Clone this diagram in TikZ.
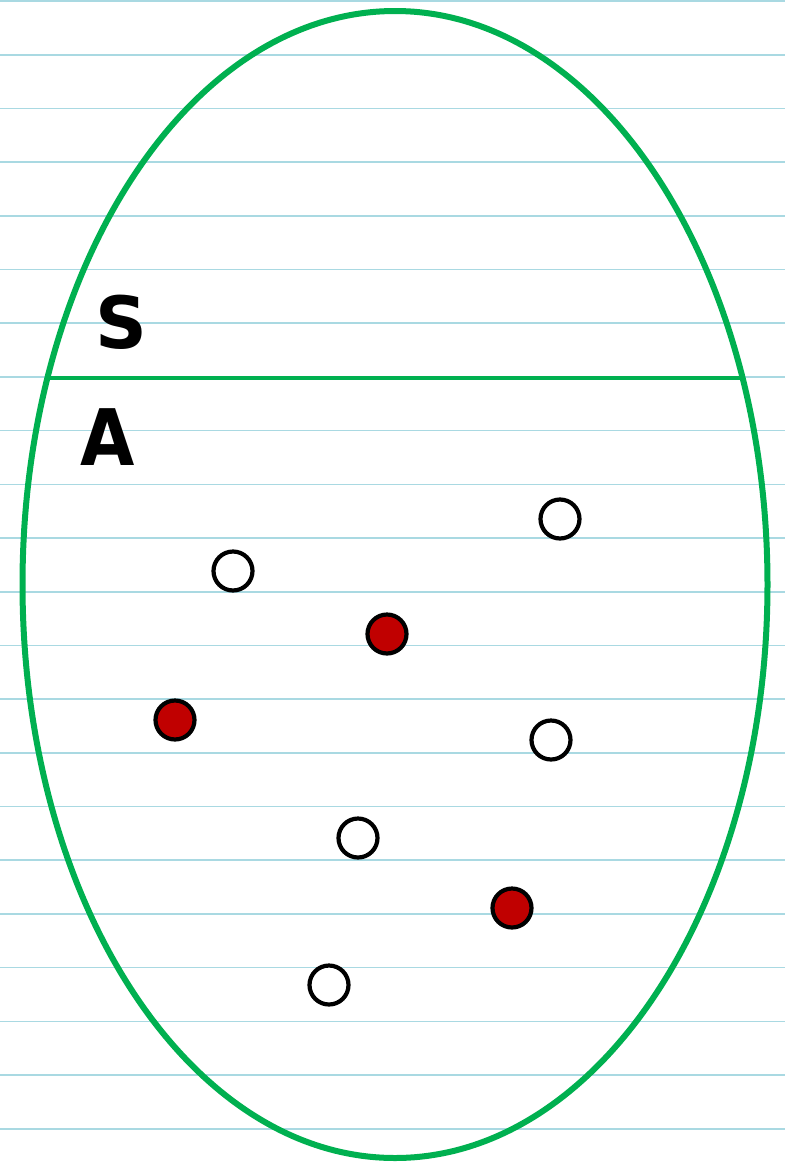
\documentclass[tikz,border=0pt]{standalone}
\usepackage{fontspec}
\usetikzlibrary{shapes.geometric}
\newfontfamily\handfont{DejaVu Sans}
\definecolor{ruleblue}{HTML}{A9D9E2}
\definecolor{setgreen}{HTML}{00B050}
\definecolor{dotred}{HTML}{C00000}
\tikzset{
  rule/.style={draw=ruleblue, line width=1.6pt},
  dot/.style={circle, draw=black, line width=4.2pt, minimum size=39pt, inner sep=0pt},
  emptydot/.style={dot, fill=white},
  reddot/.style={dot, fill=dotred},
  letter/.style={font=\handfont\bfseries\fontsize{72}{72}\selectfont, inner sep=0pt, anchor=center}
}
\begin{document}
\begin{tikzpicture}[x=1pt,y=-1pt]
\useasboundingbox[fill=white] (0,0) rectangle (785,1163);
\foreach \k in {0,...,21} {
  \draw[rule] (0,{1+53.7*\k}) -- (785,{1+53.7*\k});
}
\node[draw=setgreen, line width=6pt, ellipse, minimum width=745pt, minimum height=1147pt, inner sep=0pt] (set) at (395,584.5) {};
\coordinate (cl) at ({395-372.5*sqrt(1-((378-584.5)/573.5)^2)},378);
\coordinate (cr) at ({395+372.5*sqrt(1-((378-584.5)/573.5)^2)},378);
\draw[setgreen, line width=4.5pt] (cl) -- (cr);
\node[letter] (S) at (121,322) {S};
\node[letter, xscale=0.9, font=\handfont\bfseries\fontsize{78}{78}\selectfont] (A) at (108,437) {A};
\node[emptydot] (d1) at (560,519) {};
\node[emptydot] (d2) at (233,571) {};
\node[reddot] (d3) at (387,634) {};
\node[reddot] (d4) at (175,720) {};
\node[emptydot] (d5) at (551,740) {};
\node[emptydot] (d6) at (358,838) {};
\node[reddot] (d7) at (512,908) {};
\node[emptydot] (d8) at (329,985) {};
\end{tikzpicture}
\end{document}
